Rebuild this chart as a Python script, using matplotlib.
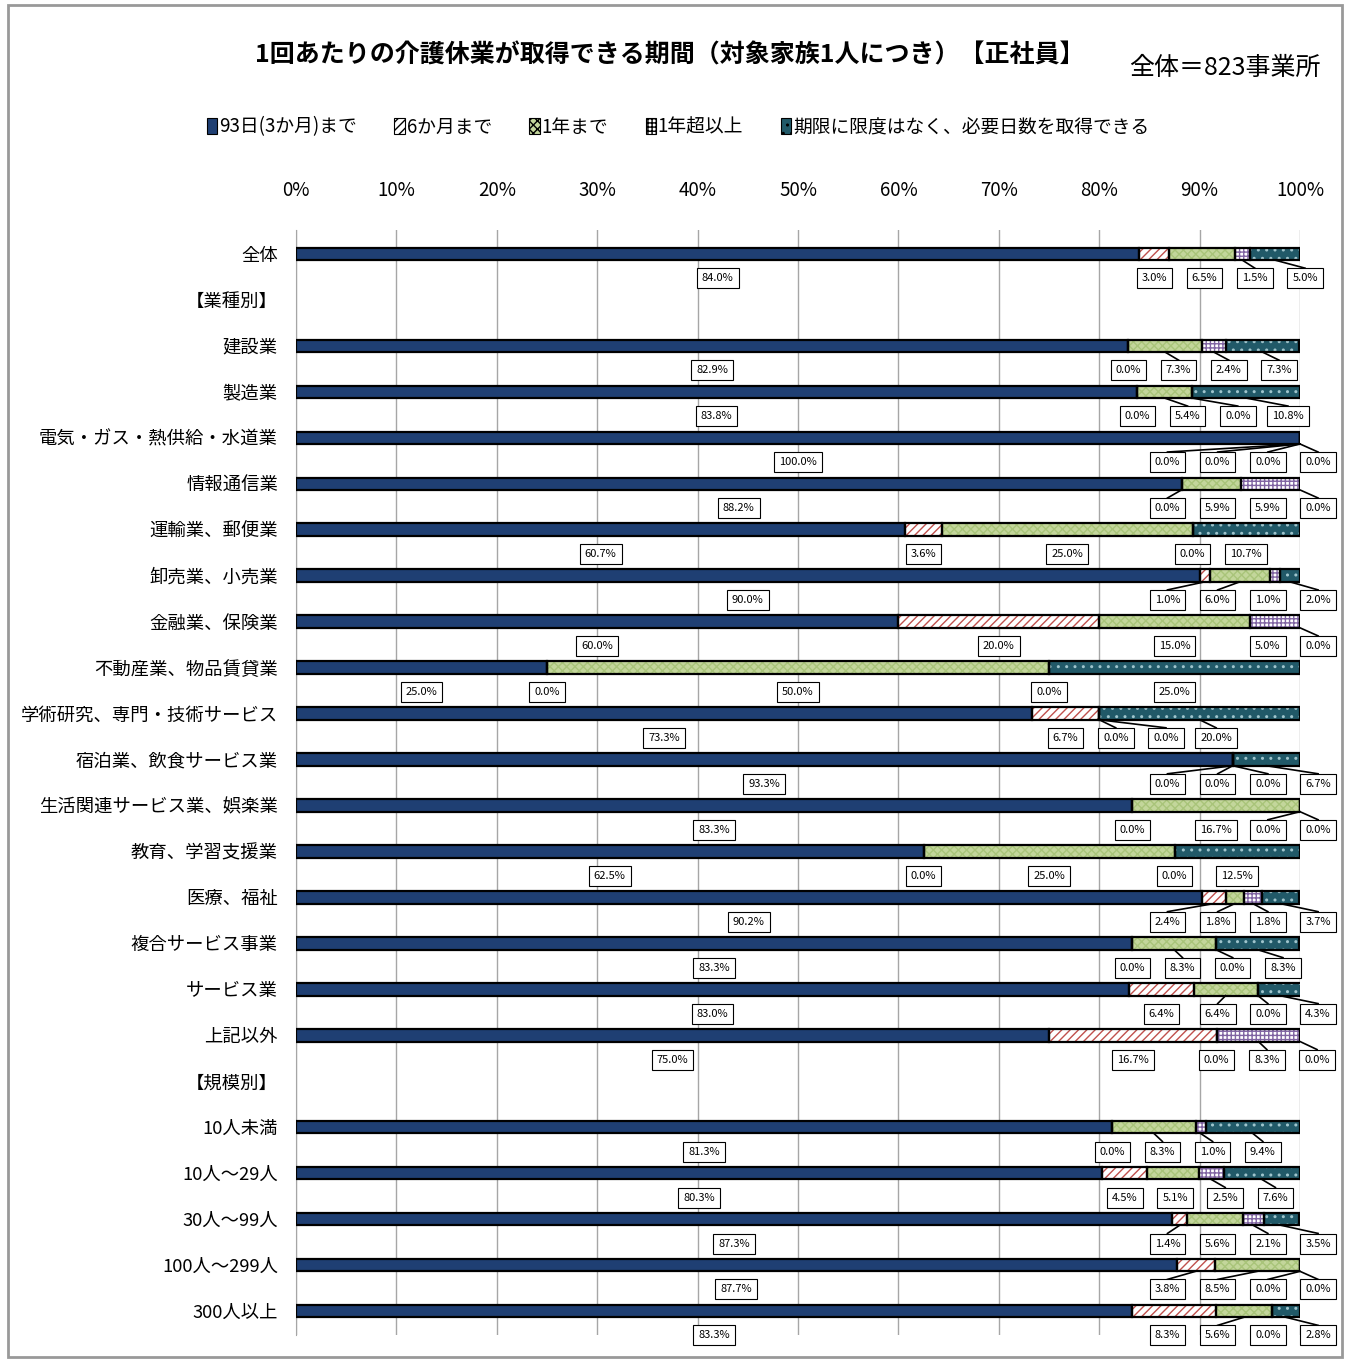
import numpy as np
import matplotlib.pyplot as plt
from matplotlib.patches import Patch, Rectangle

plt.rcParams['font.family'] = ['Noto Sans CJK JP', 'DejaVu Sans']

# 行ラベル（見出し行は値なし）
categories = ['全体', '【業種別】', '建設業', '製造業', '電気・ガス・熱供給・水道業', '情報通信業',
              '運輸業、郵便業', '卸売業、小売業', '金融業、保険業', '不動産業、物品賃貸業',
              '学術研究、専門・技術サービス', '宿泊業、飲食サービス業', '生活関連サービス業、娯楽業',
              '教育、学習支援業', '医療、福祉', '複合サービス事業', 'サービス業', '上記以外',
              '【規模別】', '10人未満', '10人～29人', '30人～99人', '100人～299人', '300人以上']

series_names = ['93日(3か月)まで', '6か月まで', '1年まで', '1年超以上', '期限に限度はなく、必要日数を取得できる']

d93 = [84.0, None, 82.9, 83.8, 100.0, 88.2, 60.7, 90.0, 60.0, 25.0, 73.3, 93.3, 83.3, 62.5, 90.2,
       83.3, 83.0, 75.0, None, 81.3, 80.3, 87.3, 87.7, 83.3]
d6m = [3.0, None, 0.0, 0.0, 0.0, 0.0, 3.6, 1.0, 20.0, 0.0, 6.7, 0.0, 0.0, 0.0, 2.4,
       0.0, 6.4, 16.7, None, 0.0, 4.5, 1.4, 3.8, 8.3]
d1y = [6.5, None, 7.3, 5.4, 0.0, 5.9, 25.0, 6.0, 15.0, 50.0, 0.0, 0.0, 16.7, 25.0, 1.8,
       8.3, 6.4, 0.0, None, 8.3, 5.1, 5.6, 8.5, 5.6]
d1yp = [1.5, None, 2.4, 0.0, 0.0, 5.9, 0.0, 1.0, 5.0, 0.0, 0.0, 0.0, 0.0, 0.0, 1.8,
        0.0, 0.0, 8.3, None, 1.0, 2.5, 2.1, 0.0, 0.0]
dfree = [5.0, None, 7.3, 10.8, 0.0, 0.0, 10.7, 2.0, 0.0, 25.0, 20.0, 6.7, 0.0, 12.5, 3.7,
         8.3, 4.3, 0.0, None, 9.4, 7.6, 3.5, 0.0, 2.8]

styles = [
    dict(fc='#1f3f73', hatch=None, hc='#1f3f73'),
    dict(fc='white', hatch='////', hc='#c0504d'),
    dict(fc='#c3d69b', hatch='xxxx', hc='#a9c47a'),
    dict(fc='white', hatch='++++', hc='#8064a2'),
    dict(fc='#215968', hatch='..', hc='#9fc4cc'),
]

fig = plt.figure(figsize=(13.48, 13.6), dpi=100)
ax = fig.add_axes([296 / 1348, 1 - 1335 / 1360, 1004 / 1348, 1105 / 1360])

y = np.arange(len(categories))
data = [d93, d6m, d1y, d1yp, dfree]
arr = np.array([[np.nan if v is None else v for v in s] for s in data])
bar_h = 0.27

left = np.zeros(len(categories))
for k, (vals, st) in enumerate(zip(arr, styles)):
    mask = ~np.isnan(vals)
    ax.barh(y[mask], vals[mask], left=left[mask], height=bar_h, color=st['fc'],
            hatch=st['hatch'], edgecolor=st['hc'], linewidth=0, zorder=3)
    left[mask] += vals[mask]

# 黒い外枠
mask = ~np.isnan(arr[0])
lf = np.zeros(len(categories))
for vals in arr:
    ax.barh(y[mask], vals[mask], left=lf[mask], height=bar_h, fill=False,
            edgecolor='black', linewidth=1.6, zorder=4)
    lf[mask] += vals[mask]

# データラベル
gap = 5.0
limit = 101.8
lab_dy = 0.53
for i in range(len(categories)):
    if np.isnan(arr[0, i]):
        continue
    vals = arr[:, i]
    starts = np.concatenate([[0], np.cumsum(vals)[:-1]])
    centers = starts + vals / 2
    xs = centers.copy()
    for j in range(1, 5):
        xs[j] = max(xs[j], xs[j - 1] + gap)
    xs[4] = min(xs[4], limit)
    for j in range(3, -1, -1):
        xs[j] = min(xs[j], xs[j + 1] - gap)
    for j in range(5):
        if abs(xs[j] - centers[j]) > 0.8:
            ax.plot([centers[j], xs[j]], [i + bar_h / 2, i + lab_dy - 0.22], color='black',
                    lw=1.2, zorder=5, clip_on=False)
        ax.text(xs[j], i + lab_dy, f'{vals[j]:.1f}%', ha='center', va='center', fontsize=8,
                zorder=6, clip_on=False,
                bbox=dict(boxstyle='square,pad=0.45', fc='white', ec='black', lw=0.8))

ax.set_xlim(0, 100)
ax.set_ylim(len(categories) - 0.48, -0.52)
ax.set_xticks(np.arange(0, 101, 10))
ax.set_xticklabels([f'{v}%' for v in range(0, 101, 10)], fontsize=13.5)
ax.xaxis.tick_top()
ax.tick_params(axis='x', length=0, pad=21)
ax.set_yticks(y)
ax.set_yticklabels(categories, fontsize=13.2)
ax.tick_params(axis='y', length=0, pad=13)
ax.grid(axis='x', color='#a6a6a6', lw=1, zorder=0)
for s in ['top', 'right', 'bottom']:
    ax.spines[s].set_visible(False)
ax.spines['left'].set_color('#a6a6a6')

handles = [Patch(facecolor=st['fc'], hatch=st['hatch'], edgecolor='black', linewidth=0.8)
           for st in styles]
leg = fig.legend(handles, series_names, loc='center', bbox_to_anchor=(678 / 1348, 1 - 127 / 1360),
                 ncol=5, frameon=False, fontsize=13.5, handlelength=0.55, handleheight=1.0,
                 handletextpad=0.1, columnspacing=2.0)

fig.text(670 / 1348, 1 - 55 / 1360, '1回あたりの介護休業が取得できる期間（対象家族1人につき）【正社員】',
         ha='center', va='center', fontsize=18, fontweight='bold')
fig.text(1225 / 1348, 1 - 68 / 1360, '全体＝823事業所', ha='center', va='center', fontsize=18)

fig.patches.append(Rectangle((8 / 1348, 3 / 1360), 1334 / 1348, 1352 / 1360, transform=fig.transFigure,
                             fill=False, edgecolor='#999999', lw=2))

fig.savefig('out.png', dpi=100)
